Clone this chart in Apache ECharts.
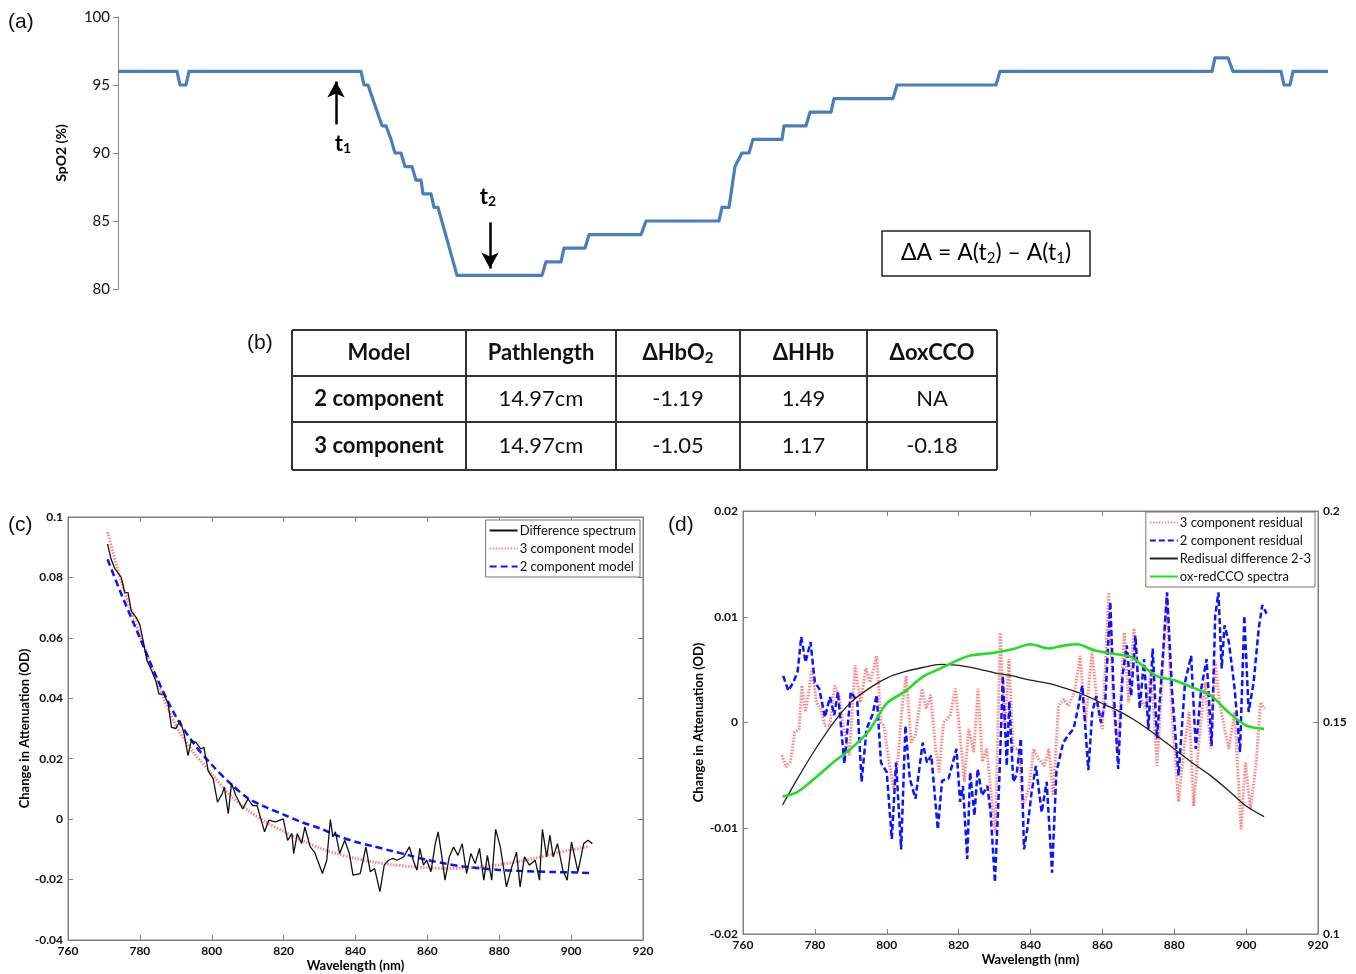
<!DOCTYPE html>
<html>
<head>
<meta charset="utf-8">
<script src="https://cdn.jsdelivr.net/npm/echarts@6.0.0/dist/echarts.min.js"></script>
<style>
  html, body { margin: 0; padding: 0; background: #fff; }
  #chart { width: 1356px; height: 974px; }
</style>
</head>
<body>
<div id="chart"></div>
<script>
// (a) SpO2 trace, time in samples
const spo2Time = [0, 59, 62, 68, 71, 243, 246, 250, 264, 268, 273, 277, 283, 287, 294, 298, 303, 305, 313, 316, 320, 339, 424, 428, 443, 446, 467, 471, 523, 528, 601, 604, 611, 617, 624, 631, 635, 664, 666, 688, 692, 713, 716, 775, 779, 878, 882, 1094, 1097, 1110, 1115, 1163, 1166, 1172, 1175, 1210]
const spo2Value = [96, 96, 95, 95, 96, 96, 95, 95, 92, 92, 91, 90, 90, 89, 89, 88, 88, 87, 87, 86, 86, 81, 81, 82, 82, 83, 83, 84, 84, 85, 85, 86, 86, 89, 90, 90, 91, 91, 92, 92, 93, 93, 94, 94, 95, 95, 96, 96, 97, 97, 96, 96, 95, 95, 96, 96]
// arrows t1 / t2: time, arrow tail, arrow tip, label level
const markers = [
  { label: '1', t: 218, from: 92.1, to: 95.25, labelT: 225, labelAt: 90.7 },
  { label: '2', t: 372, from: 84.9, to: 81.5, labelT: 370, labelAt: 86.8 },
]
const formulaText = 'ΔA = A(t{s|2}) – A(t{s|1})'

// (b) table
const tableHeader = ['Model', 'Pathlength', 'ΔHbO2', 'ΔHHb', 'ΔoxCCO']
const tableRows = [
  ['2 component', '14.97cm', '-1.19', '1.49', 'NA'],
  ['3 component', '14.97cm', '-1.05', '1.17', '-0.18'],
]

// (c) difference spectrum and model fits
const diffWl = [771, 772, 773, 774.8, 775.8, 776.7, 777.6, 779, 780, 780.9, 782, 783.3, 784.5, 785.3, 786.6, 787.8, 788.8, 790, 791.2, 792.3, 793.4, 794.3, 795.6, 797, 797.8, 799, 800.4, 801.6, 802.9, 803.5, 804.6, 805.5, 806.7, 808.6, 810.1, 811.4, 812.6, 814.7, 815.9, 817.7, 819.9, 821.1, 822.3, 822.8, 823.8, 825, 825.9, 827.4, 828.6, 830.8, 832, 833, 833.7, 834.4, 835.6, 837, 838.3, 839.3, 841.3, 842.9, 844.1, 845.3, 846.8, 848, 849.2, 850.4, 851.6, 853.4, 855, 856.2, 857.1, 857.9, 858.9, 859.8, 861, 862.2, 863, 863.9, 864.9, 866.1, 867.3, 868.5, 869.7, 870.9, 872.1, 873.3, 874.5, 875.7, 876.7, 877.9, 879, 880.3, 882, 883.5, 884.8, 885.8, 887, 888.4, 890, 891.2, 892, 893.2, 894.1, 895, 896.2, 897.7, 898.9, 900.1, 901.9, 903.5, 904.7, 905.9]
const diffOd = [0.0911, 0.086, 0.083, 0.080, 0.075, 0.075, 0.0689, 0.0667, 0.0643, 0.059, 0.0524, 0.049, 0.0455, 0.0414, 0.0414, 0.0386, 0.0304, 0.030, 0.0326, 0.0282, 0.021, 0.026, 0.0254, 0.0232, 0.0238, 0.016, 0.0133, 0.0056, 0.0084, 0.0106, 0.0018, 0.0119, 0.0078, 0.0034, 0.0067, 0.0045, 0.0045, -0.0042, -0.0003, -0.0009, 0.0001, -0.007, -0.0048, -0.0114, -0.0048, -0.0081, -0.0026, -0.0092, -0.0109, -0.018, -0.0136, -0.0001, -0.0059, -0.0042, -0.0114, -0.007, -0.0114, -0.0185, -0.018, -0.0092, -0.0174, -0.0163, -0.024, -0.0152, -0.0136, -0.013, -0.0136, -0.0125, -0.0092, -0.0141, -0.0169, -0.0097, -0.0152, -0.0136, -0.0174, -0.0081, -0.0042, -0.0114, -0.0202, -0.0125, -0.0092, -0.012, -0.0081, -0.018, -0.0114, -0.0147, -0.0097, -0.0202, -0.012, -0.0202, -0.0034, -0.0092, -0.0224, -0.0158, -0.0109, -0.0224, -0.0125, -0.0152, -0.0136, -0.0202, -0.0034, -0.0125, -0.0053, -0.0125, -0.0081, -0.0169, -0.0202, -0.0076, -0.0174, -0.0081, -0.007, -0.0081]
const modelWl = [771, 775, 780, 785, 790, 795, 800, 805, 810, 815, 820, 825, 830, 835, 840, 845, 850, 855, 860, 865, 870, 875, 880, 885, 890, 895, 900, 905]
const model3 = [0.095, 0.078, 0.061, 0.045, 0.031, 0.022, 0.015, 0.008, 0.003, -0.001, -0.004, -0.007, -0.0095, -0.0115, -0.013, -0.0142, -0.0151, -0.0157, -0.0161, -0.0163, -0.0162, -0.0158, -0.0151, -0.0141, -0.0129, -0.0115, -0.0102, -0.009]
const model2 = [0.086, 0.074, 0.060, 0.046, 0.034, 0.025, 0.018, 0.012, 0.007, 0.004, 0.0015, -0.001, -0.003, -0.0055, -0.0075, -0.009, -0.0105, -0.012, -0.0135, -0.0147, -0.0157, -0.0163, -0.0168, -0.0171, -0.0173, -0.0175, -0.0176, -0.0178]

// (d) residuals, left axis OD; CCO spectrum on right axis
const res3Wl = [770.8, 772, 773.2, 774.4, 775.6, 776.4, 777.4, 778.3, 779.2, 780.4, 781.6, 782.8, 784.2, 785.5, 786.7, 787.9, 789.6, 791.2, 792.7, 794.2, 795.4, 797.2, 798.4, 799.2, 800.8, 802, 803.2, 804.4, 805.4, 806.8, 808, 809.8, 811, 812.2, 813.6, 814.6, 815.8, 817.6, 819.1, 820.4, 821.6, 822.8, 824.2, 825.4, 826.6, 827.8, 829.3, 830.2, 831.6, 832.8, 834, 835.2, 836.7, 837.9, 839.5, 840.9, 842.1, 843.9, 845.1, 846.3, 847.8, 849.3, 850.5, 852.3, 853.8, 855.3, 857.1, 858.6, 860, 861.8, 863.1, 864.3, 866.1, 867.3, 868.8, 870.3, 872.1, 873.6, 875.2, 876.4, 877.9, 879.4, 881.2, 882.7, 884.2, 885.4, 887.2, 888.6, 890.2, 891.4, 892.6, 894, 895.2, 896.8, 898.6, 899.8, 901.2, 902.8, 904, 905.2]
const res3Od = [-0.0031, -0.0042, -0.0037, -0.0009, -0.0007, 0.0035, 0.001, 0.0029, 0.0051, 0.0019, 0.0013, -0.0003, -0.0003, 0.0035, 0.0026, -0.0003, -0.0031, 0.0054, 0.0019, 0.0051, 0.0038, 0.0063, 0, -0.0003, -0.0041, -0.0063, -0.0031, 0.0019, 0.0044, -0.0019, -0.0012, 0.0032, 0.0013, 0.0026, -0.0025, -0.0047, 0, 0.0006, 0.0032, -0.0012, -0.0056, -0.0006, -0.0028, 0.0032, -0.0037, -0.0025, -0.0075, -0.0104, 0.0085, -0.0006, 0.006, -0.0025, -0.0025, -0.0079, -0.0063, -0.0025, -0.0034, -0.0041, -0.0025, -0.0069, 0.0016, 0.0022, 0.0016, 0.0029, 0.0063, 0, 0.0067, 0.0016, -0.0006, 0.0123, 0.0013, -0.0025, 0.0085, 0.0019, 0.0089, 0.0026, 0.0013, 0.0051, -0.0041, 0.0026, 0.012, 0.0007, -0.0075, -0.0025, 0.001, -0.0079, -0.0006, 0.0038, -0.0025, 0.0057, 0.0019, -0.0006, -0.0025, 0.001, -0.0101, -0.0038, -0.0082, -0.0038, 0.0019, 0.0013]
const res2Wl = [771.2, 772.6, 774, 775.2, 776.2, 777.4, 778.8, 780, 781.2, 782.8, 784.2, 785.4, 786.4, 788.2, 790, 791.8, 793, 794.4, 796, 797.2, 798.4, 800, 801.4, 802.6, 804, 805.2, 806.4, 808, 810, 811.2, 812.4, 814.2, 815.4, 817.2, 819.4, 820.4, 821.2, 822.4, 823.2, 824.4, 825.3, 826.5, 828, 828.9, 830.1, 831.3, 832.3, 833.4, 834.1, 835.2, 836.1, 837.3, 838.2, 839.1, 840.3, 841.5, 843.1, 844.5, 846, 847.2, 849.1, 850.5, 852, 853.2, 854.4, 856.1, 857.2, 858.3, 859.6, 860.8, 862.2, 863.1, 864.4, 865.6, 866.8, 868, 869.2, 870.4, 871.6, 872.8, 874, 875.2, 876.4, 878, 879.4, 881.2, 883, 884.7, 886, 887.5, 889, 890.4, 891.4, 892.3, 893.2, 894, 895.2, 896.8, 898.3, 899.5, 900.7, 902.1, 903.5, 904.5, 905.7]
const res2Od = [0.0044, 0.003, 0.0038, 0.0048, 0.0081, 0.0057, 0.0076, 0.0038, 0.0032, 0.0005, 0.0024, 0.0007, 0.0029, -0.0039, 0.0029, 0.002, -0.0056, -0.0006, 0.0007, 0.0026, -0.0038, -0.0047, -0.011, -0.0038, -0.012, -0.0003, -0.0053, -0.0072, -0.0019, -0.0038, -0.0031, -0.0101, -0.0055, -0.0053, -0.0025, -0.0075, -0.006, -0.0129, -0.0047, -0.0088, -0.0044, -0.0069, -0.006, -0.0085, -0.0151, -0.0056, 0.0044, -0.0041, 0.002, -0.0056, -0.005, -0.0015, -0.012, -0.0101, -0.0066, -0.0041, -0.0085, -0.0056, -0.0142, -0.0047, -0.0019, -0.0012, -0.0006, 0.0013, 0.0035, -0.0045, 0.001, 0.0025, 0, 0.0019, 0.0114, 0.0032, -0.0044, 0.0044, 0.0073, 0.0025, 0.0082, 0.0013, 0.006, -0.0006, 0.007, -0.0015, 0.0041, 0.0123, 0.0029, -0.005, 0.0038, 0.0063, -0.0025, 0.0032, 0.006, -0.0022, 0.0101, 0.0123, 0.0051, 0.0092, 0.0076, 0.0032, -0.0028, 0.0101, 0.001, 0.0038, 0.0089, 0.0111, 0.0103]
const resDiffWl = [771, 775, 780, 785, 790, 795, 800, 805, 810, 815, 820, 825, 830, 835, 840, 845, 850, 855, 860, 865, 870, 875, 880, 885, 890, 895, 900, 905]
const resDiffOd = [-0.0078, -0.0054, -0.0026, -0.0001, 0.0019, 0.0032, 0.0042, 0.0048, 0.0052, 0.0055, 0.0054, 0.0051, 0.0047, 0.0044, 0.0040, 0.0037, 0.0032, 0.0026, 0.0018, 0.001, 0, -0.0012, -0.0025, -0.0038, -0.005, -0.0064, -0.0079, -0.0089]
const ccoWl = [771, 775, 780, 785, 790, 795, 800, 805, 810, 815, 820, 823, 830, 835, 840, 845, 850, 853, 858, 865, 868, 875, 880, 885, 890, 895, 900, 905]
const ccoValue = [0.1325, 0.1335, 0.1368, 0.1405, 0.1438, 0.148, 0.1545, 0.1573, 0.1608, 0.1628, 0.1648, 0.1658, 0.1665, 0.1673, 0.1685, 0.1675, 0.1683, 0.1685, 0.167, 0.166, 0.1655, 0.161, 0.16, 0.1583, 0.1565, 0.1525, 0.1493, 0.1485]

const legendC = ['Difference spectrum', '3 component model', '2 component model']
const legendD = ['3 component residual', '2 component residual', 'Redisual difference 2-3', 'ox-redCCO spectra']

const zip = (xs, ys) => xs.map((x, i) => [x, ys[i]])

const FONT = 'Lato'
const FRAME = '#808080'

function frameXAxis(gridIndex, position, withLabels) {
  return {
    gridIndex, type: 'value', min: 760, max: 920, interval: 20, position,
    name: withLabels ? 'Wavelength (nm)' : '',
    nameLocation: 'middle', nameGap: 19,
    nameTextStyle: { fontFamily: FONT, fontWeight: 'bold', fontSize: 13, color: '#000' },
    axisLine: { show: true, onZero: false, lineStyle: { color: FRAME } },
    axisTick: { show: true, inside: true, length: 5, lineStyle: { color: FRAME } },
    axisLabel: { show: withLabels, fontFamily: FONT, fontWeight: 'bold', fontSize: 12, color: '#111', margin: 5 },
    splitLine: { show: false },
  }
}

function frameYAxis(gridIndex, position, min, max, interval, withLabels, name, nameGap) {
  return {
    gridIndex, type: 'value', min, max, interval, position,
    name: name || '', nameLocation: 'middle', nameGap: nameGap || 0, nameRotate: 90,
    nameTextStyle: { fontFamily: FONT, fontWeight: 'bold', fontSize: 13, color: '#000' },
    axisLine: { show: true, onZero: false, lineStyle: { color: FRAME } },
    axisTick: { show: true, inside: true, length: 5, lineStyle: { color: FRAME } },
    axisLabel: { show: withLabels, fontFamily: FONT, fontWeight: 'bold', fontSize: 12, color: '#111', margin: 5 },
    splitLine: { show: false },
  }
}

function boxLegend(data, right, top) {
  return {
    data, orient: 'vertical', right, top,
    itemWidth: 28, itemHeight: 14, itemGap: 5, padding: [4, 4, 4, 3],
    backgroundColor: '#fff', borderColor: '#777', borderWidth: 1, borderRadius: 0,
    itemStyle: { opacity: 0 },
    textStyle: { fontFamily: FONT, fontSize: 13, color: '#111', padding: [0, 0, 0, -3] },
  }
}

// table (b) as graphic elements
const colEdges = [292, 466, 616, 740, 867, 997]
const rowEdges = [330, 376, 422, 470]
const tableGraphics = []
colEdges.forEach(x => tableGraphics.push({
  type: 'line', shape: { x1: x, y1: rowEdges[0], x2: x, y2: rowEdges[rowEdges.length - 1] },
  style: { stroke: '#333', lineWidth: 2 },
}))
rowEdges.forEach(y => tableGraphics.push({
  type: 'line', shape: { x1: colEdges[0], y1: y, x2: colEdges[colEdges.length - 1], y2: y },
  style: { stroke: '#333', lineWidth: 2 },
}))
const cellText = (text, col, row, bold) => ({
  type: 'text',
  x: (colEdges[col] + colEdges[col + 1]) / 2,
  y: (rowEdges[row] + rowEdges[row + 1]) / 2,
  style: {
    text: text.replace(/O2$/, 'O{sub|2}'),
    fill: '#111', fontFamily: FONT, fontSize: 22, fontWeight: bold ? 'bold' : 'normal',
    align: 'center', verticalAlign: 'middle',
    rich: { sub: { fontFamily: FONT, fontSize: 15, fontWeight: 'bold', fill: '#111', padding: [10, 0, 0, 0] } },
  },
})
tableHeader.forEach((h, c) => tableGraphics.push(cellText(h, c, 0, true)))
tableRows.forEach((row, r) => row.forEach((v, c) => tableGraphics.push(cellText(v, c, r + 1, c === 0))))

const panelLabel = (text, x, y) => ({
  type: 'text', x, y,
  style: { text, fill: '#111', fontFamily: 'Liberation Sans', fontSize: 21 },
})

const option = {
  animation: false,
  backgroundColor: '#fff',
  grid: [
    { left: 118, top: 17, width: 1210, height: 272 },
    { left: 68, top: 517, width: 575, height: 423, show: true, borderColor: FRAME, borderWidth: 1 },
    { left: 743, top: 511, width: 575, height: 423, show: true, borderColor: FRAME, borderWidth: 1 },
  ],
  xAxis: [
    { gridIndex: 0, type: 'value', min: 0, max: 1210, show: false },
    frameXAxis(1, 'bottom', true),
    frameXAxis(1, 'top', false),
    frameXAxis(2, 'bottom', true),
    frameXAxis(2, 'top', false),
  ],
  yAxis: [
    {
      gridIndex: 0, type: 'value', min: 80, max: 100, interval: 5,
      name: 'SpO2 (%)', nameLocation: 'middle', nameGap: 50, nameRotate: 90,
      nameTextStyle: { fontFamily: FONT, fontWeight: 'bold', fontSize: 14, color: '#000' },
      axisLine: { show: true, lineStyle: { color: '#868686', width: 1 } },
      axisTick: { show: true, length: 5, lineStyle: { color: '#868686' } },
      axisLabel: { fontFamily: FONT, fontSize: 15, color: '#111', margin: 8 },
      splitLine: { show: false },
    },
    frameYAxis(1, 'left', -0.04, 0.1, 0.02, true, 'Change in Attenuation (OD)', 36),
    frameYAxis(1, 'right', -0.04, 0.1, 0.02, false),
    frameYAxis(2, 'left', -0.02, 0.02, 0.01, true, 'Change in Attenuation (OD)', 38),
    frameYAxis(2, 'right', 0.1, 0.2, 0.05, true),
  ],
  legend: [
    boxLegend(legendC, 716, 520),
    boxLegend(legendD, 41, 512),
  ],
  series: [
    {
      name: 'SpO2', type: 'line', xAxisIndex: 0, yAxisIndex: 0,
      data: zip(spo2Time, spo2Value), symbol: 'none', color: '#4a7ebb',
      lineStyle: { width: 3.2, color: '#4a7ebb', join: 'round' },
      markLine: {
        silent: true, symbol: ['none', 'arrow'], symbolSize: [13, 16],
        label: { show: false },
        lineStyle: { color: '#000', width: 2.5, type: 'solid' },
        data: markers.map(m => [{ coord: [m.t, m.from] }, { coord: [m.t, m.to] }]),
      },
      markPoint: {
        silent: true, symbol: 'circle', symbolSize: 1,
        itemStyle: { color: 'rgba(0,0,0,0)' },
        label: {
          show: true, position: 'inside', color: '#000',
          formatter: p => '{t|t}{s|' + p.name + '}',
          rich: {
            t: { fontFamily: FONT, fontSize: 22, fontWeight: 'bold', color: '#000' },
            s: { fontFamily: FONT, fontSize: 14, fontWeight: 'bold', color: '#000', padding: [10, 0, 0, 0] },
          },
        },
        data: markers.map(m => ({ name: m.label, coord: [m.labelT, m.labelAt] })),
      },
    },
    {
      name: '3 component model', type: 'line', xAxisIndex: 1, yAxisIndex: 1,
      data: zip(modelWl, model3), symbol: 'none', smooth: 0.3, color: '#ff7070', z: 2,
      lineStyle: { width: 3, color: '#ff7070', type: [1.5, 1.5], opacity: 0.85 },
    },
    {
      name: '2 component model', type: 'line', xAxisIndex: 1, yAxisIndex: 1,
      data: zip(modelWl, model2), symbol: 'none', smooth: 0.3, color: '#0a14ff', z: 3,
      lineStyle: { width: 2.5, color: '#0a14ff', type: [7, 4] },
    },
    {
      name: 'Difference spectrum', type: 'line', xAxisIndex: 1, yAxisIndex: 1,
      data: zip(diffWl, diffOd), symbol: 'none', color: '#111', z: 4,
      lineStyle: { width: 1.3, color: '#111' },
    },
    {
      name: '3 component residual', type: 'line', xAxisIndex: 3, yAxisIndex: 3,
      data: zip(res3Wl, res3Od), symbol: 'none', color: '#ff7070', z: 2,
      lineStyle: { width: 3, color: '#ff7070', type: [1.5, 1.5], opacity: 0.85 },
    },
    {
      name: '2 component residual', type: 'line', xAxisIndex: 3, yAxisIndex: 3,
      data: zip(res2Wl, res2Od), symbol: 'none', color: '#0a14ff', z: 3,
      lineStyle: { width: 2.5, color: '#0a14ff', type: [6, 3] },
    },
    {
      name: 'Redisual difference 2-3', type: 'line', xAxisIndex: 3, yAxisIndex: 3,
      data: zip(resDiffWl, resDiffOd), symbol: 'none', smooth: 0.3, color: '#222', z: 4,
      lineStyle: { width: 1.3, color: '#222' },
    },
    {
      name: 'ox-redCCO spectra', type: 'line', xAxisIndex: 3, yAxisIndex: 4,
      data: zip(ccoWl, ccoValue), symbol: 'none', smooth: 0.3, color: '#22dd22', z: 5,
      lineStyle: { width: 2.6, color: '#22dd22' },
    },
  ],
  graphic: [
    panelLabel('(a)', 8, 12),
    panelLabel('(b)', 247, 333),
    panelLabel('(c)', 8, 515),
    panelLabel('(d)', 668, 515),
    {
      type: 'rect', shape: { x: 882, y: 231, width: 208, height: 45 },
      style: { fill: '#fff', stroke: '#222', lineWidth: 1.5 },
    },
    {
      type: 'text', x: 986, y: 253,
      style: {
        text: formulaText, fill: '#000', fontFamily: FONT, fontSize: 23,
        align: 'center', verticalAlign: 'middle',
        rich: { s: { fontFamily: FONT, fontSize: 15, fill: '#000', padding: [10, 0, 0, 0] } },
      },
    },
    ...tableGraphics,
  ],
}

const chart = echarts.init(document.getElementById('chart'))
chart.setOption(option)
</script>
</body>
</html>
